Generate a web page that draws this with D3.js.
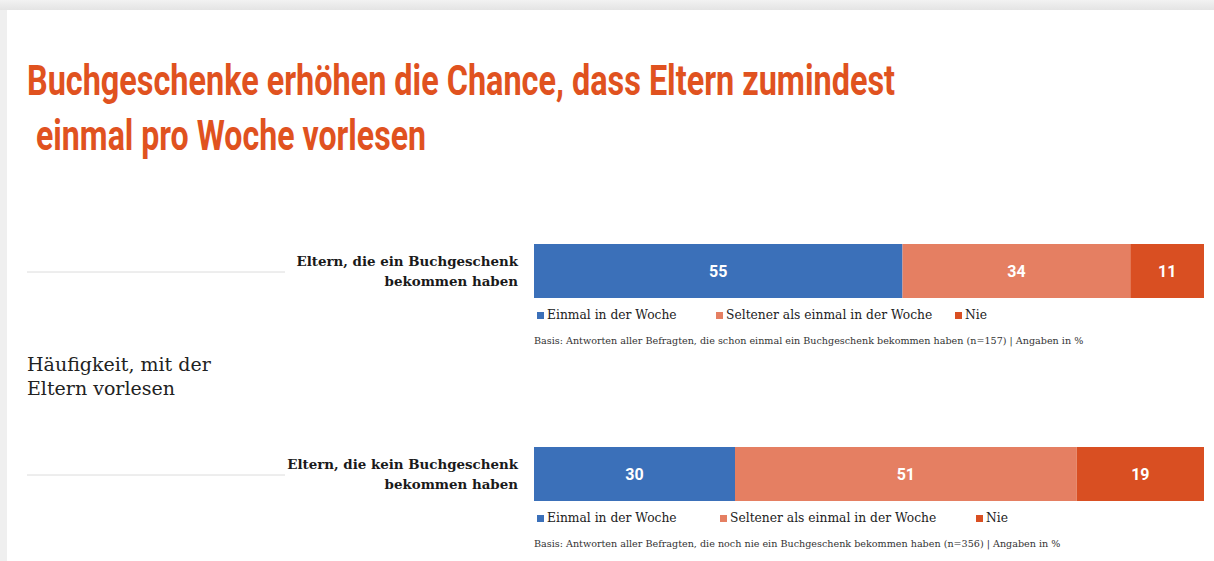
<!DOCTYPE html>
<html>
<head>
<meta charset="utf-8">
<script src="https://cdn.jsdelivr.net/npm/d3@7"></script>
<style>
  body { margin: 0; background: #efefef; }
  svg { display: block; }
</style>
</head>
<body>
<div id="chart"></div>
<script>
const groups = ["Eltern, die ein Buchgeschenk|bekommen haben", "Eltern, die kein Buchgeschenk|bekommen haben"];
const categories = ["Einmal in der Woche", "Seltener als einmal in der Woche", "Nie"];
const einmal = [55, 30];
const seltener = [34, 51];
const nie = [11, 19];
const notes = [
  "Basis: Antworten aller Befragten, die schon einmal ein Buchgeschenk bekommen haben (n=157) | Angaben in %",
  "Basis: Antworten aller Befragten, die noch nie ein Buchgeschenk bekommen haben (n=356) | Angaben in %"
];
const titleLines = ["Buchgeschenke erhöhen die Chance, dass Eltern zumindest", "einmal pro Woche vorlesen"];
const sideLabel = ["Häufigkeit, mit der", "Eltern vorlesen"];

const W = 1214, H = 561;
const color = d3.scaleOrdinal().domain(categories).range(["#3b70b9", "#e57f62", "#d94f22"]);
const serif = "'Roboto Slab', 'DejaVu Serif', 'Liberation Serif', serif";

const svg = d3.select("#chart").append("svg").attr("width", W).attr("height", H);

// card with soft shadow at top
const defs = svg.append("defs");
const grad = defs.append("linearGradient").attr("id", "shade").attr("x1", 0).attr("x2", 0).attr("y1", 0).attr("y2", 1);
grad.append("stop").attr("offset", 0).attr("stop-color", "#f2f2f2");
grad.append("stop").attr("offset", 1).attr("stop-color", "#e4e4e4");
svg.append("rect").attr("x", 0).attr("y", 0).attr("width", W).attr("height", 10).attr("fill", "url(#shade)");
svg.append("rect").attr("x", 7).attr("y", 10).attr("width", W - 7).attr("height", H - 10).attr("fill", "#fff");

// title (condensed look via textLength)
const titleX = [27, 36], titleW = [868, 390];
svg.append("g").selectAll("text").data(titleLines).join("text")
  .attr("x", (d, i) => titleX[i]).attr("y", (d, i) => 95 + i * 55)
  .attr("textLength", (d, i) => titleW[i]).attr("lengthAdjust", "spacingAndGlyphs")
  .style("font-family", "Roboto, 'Liberation Sans', sans-serif")
  .style("font-weight", "bold")
  .style("font-size", "43px")
  .attr("fill", "#e0521f")
  .text(d => d);

svg.append("g").selectAll("text").data(sideLabel).join("text")
  .attr("x", 27).attr("y", (d, i) => 371 + i * 24)
  .style("font-family", serif).style("font-size", "19px").attr("fill", "#222")
  .text(d => d);

const x = d3.scaleLinear().domain([0, 100]).range([534, 1204]);
const rowY = d3.scalePoint().domain(d3.range(groups.length)).range([244, 447]);
const barH = 54;

const rows = groups.map((g, i) => {
  const vals = [einmal[i], seltener[i], nie[i]];
  let acc = 0;
  return { label: g, note: notes[i], segs: vals.map((v, j) => { const s = { cat: categories[j], v, x0: acc }; acc += v; return s; }) };
});

const legendX = [[537, 716, 955], [537, 720, 976]];

rows.forEach((r, i) => {
  const y0 = rowY(i);
  const g = svg.append("g");

  g.append("line").attr("x1", 27).attr("x2", 285).attr("y1", y0 + 28).attr("y2", y0 + 28)
    .attr("stroke", "#dcdcdc").attr("stroke-width", 1);

  g.append("g").selectAll("text").data(r.label.split("|")).join("text")
    .attr("x", 518).attr("y", (d, k) => y0 + 22 + k * 20)
    .attr("text-anchor", "end")
    .style("font-family", serif).style("font-weight", "bold").style("font-size", "13.4px").attr("fill", "#1a1a1a")
    .text(d => d);

  g.selectAll("rect.seg").data(r.segs).join("rect").attr("class", "seg")
    .attr("x", d => x(d.x0)).attr("y", y0)
    .attr("width", d => x(d.x0 + d.v) - x(d.x0)).attr("height", barH)
    .attr("fill", d => color(d.cat));

  g.selectAll("text.val").data(r.segs).join("text").attr("class", "val")
    .attr("x", d => x(d.x0 + d.v / 2)).attr("y", y0 + barH / 2 + 6)
    .attr("text-anchor", "middle")
    .style("font-family", "Roboto, 'DejaVu Sans', sans-serif").style("font-weight", "bold").style("font-size", "16px")
    .attr("fill", "#fff")
    .text(d => d.v);

  const lg = g.selectAll("g.leg").data(categories).join("g").attr("class", "leg")
    .attr("transform", (d, k) => `translate(${legendX[i][k]},${y0 + 68})`);
  lg.append("rect").attr("x", 0).attr("y", 0).attr("width", 7).attr("height", 7).attr("fill", d => color(d));
  lg.append("text").attr("x", 10).attr("y", 7)
    .style("font-family", serif).style("font-size", "12.3px").attr("fill", "#222")
    .text(d => d);

  g.append("text").attr("x", 534).attr("y", y0 + 100)
    .style("font-family", serif).style("font-size", "9.6px").attr("fill", "#333")
    .text(r.note);
});
</script>
</body>
</html>
